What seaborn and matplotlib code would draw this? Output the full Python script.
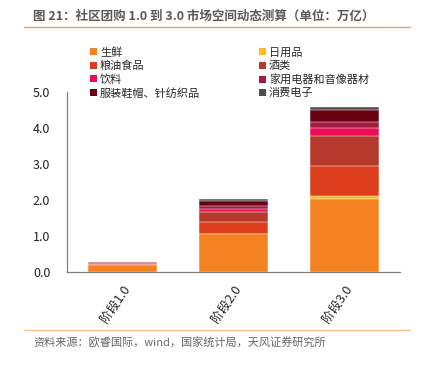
import seaborn as sns
import pandas as pd
import matplotlib.pyplot as plt
from matplotlib.patches import Patch
from matplotlib.lines import Line2D

# data (unit: 万亿)
stages = ["阶段1.0", "阶段2.0", "阶段3.0"]
categories = ["生鲜", "日用品", "粮油食品", "酒类", "饮料", "家用电器和音像器材", "服装鞋帽、针纺织品", "消费电子"]
fresh = [0.18, 1.04, 2.02]
daily = [0.005, 0.01, 0.08]
grain = [0.04, 0.33, 0.84]
liquor = [0.02, 0.27, 0.82]
drinks = [0.01, 0.09, 0.22]
appliances = [0.005, 0.09, 0.17]
clothing = [0.005, 0.14, 0.35]
electronics = [0.005, 0.05, 0.07]

colors = ["#F58220", "#FBBA26", "#DC3E1E", "#B5392C", "#EE0B58", "#A01C40", "#6B0010", "#4D4D4D"]

sns.set_style("white")
plt.rcParams['font.family'] = ['Noto Sans CJK SC', 'DejaVu Sans']

df = pd.DataFrame({"阶段": stages})
series = [fresh, daily, grain, liquor, drinks, appliances, clothing, electronics]
for name, vals in zip(categories, series):
    df[name] = vals
cum = df[categories].cumsum(axis=1)

fig = plt.figure(figsize=(4.22, 3.65), dpi=100)
ax = fig.add_axes([67 / 422, 1 - 271.7 / 365, 333 / 422, 180 / 365])

# draw stacked bars: cumulative totals from top layer down
for name, col in reversed(list(zip(categories, colors))):
    sns.barplot(x=df["阶段"], y=cum[name], color=col, width=0.62,
                edgecolor="#FFFFFF", linewidth=0.35, saturation=1, ax=ax)

ax.set_ylim(0, 5)
ax.set_xlim(-0.5, 2.5)
ax.set_yticks([0, 1, 2, 3, 4, 5])
ax.set_yticklabels([f"{v:.1f}" for v in [0, 1, 2, 3, 4, 5]], fontsize=9, color="#222222")
ax.set_xticks([0, 1, 2])
ax.set_xticklabels(stages, rotation=55, ha="right", rotation_mode="anchor", fontsize=9, color="#222222")
ax.set_xticks([-0.5, 0.5, 1.5, 2.5], minor=True)
ax.tick_params(axis="x", which="major", length=0, pad=8)
ax.tick_params(axis="x", which="minor", length=4, color="#808080", direction="out")
ax.tick_params(axis="y", length=4, color="#808080", direction="out", pad=8)
ax.set_xlabel("")
ax.set_ylabel("")
for s in ["top", "right"]:
    ax.spines[s].set_visible(False)
for s in ["left", "bottom"]:
    ax.spines[s].set_color("#808080")
    ax.spines[s].set_linewidth(0.9)

# legend, row-wise order in two columns
order = [0, 2, 4, 6, 1, 3, 5, 7]
handles = [Patch(facecolor=colors[i], edgecolor="none", label=categories[i]) for i in order]
fig.legend(handles=handles, ncol=2, frameon=False, fontsize=8,
           loc="upper left", bbox_to_anchor=(90 / 422, 1 - 47 / 365),
           handlelength=0.6, handleheight=0.6, handletextpad=0.3,
           labelspacing=0.28, columnspacing=5.3, borderaxespad=0, borderpad=0)

fig.text(33 / 422, 1 - 16 / 365, "图 21：社区团购 1.0 到 3.0 市场空间动态测算（单位：万亿）",
         fontsize=9, fontweight="bold", color="#595959", va="center")
fig.add_artist(Line2D([24 / 422, 410 / 422], [1 - 27 / 365, 1 - 27 / 365], color="#EDA060", lw=1))
fig.add_artist(Line2D([24 / 422, 410 / 422], [1 - 330 / 365, 1 - 330 / 365], color="#F8C08A", lw=1))
fig.text(33 / 422, 1 - 343 / 365, "资料来源：欧睿国际，wind，国家统计局，天风证券研究所",
         fontsize=8, color="#666666", va="center")

fig.savefig("out.png", dpi=100)
